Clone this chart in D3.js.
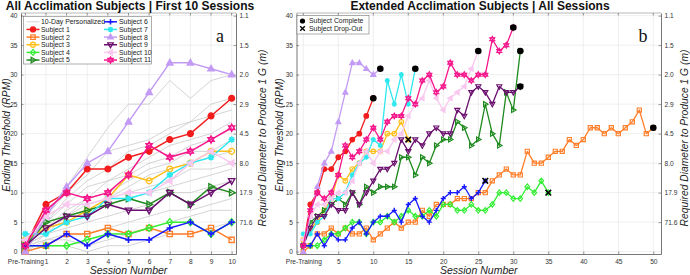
<!DOCTYPE html>
<html><head><meta charset="utf-8">
<script src="https://cdn.jsdelivr.net/npm/d3@7"></script>
<style>
body{margin:0;background:#fff}
svg{display:block}
text{font-family:"Liberation Sans",Arial,Helvetica,sans-serif}
</style>
</head><body>
<svg id="c" width="690" height="275"></svg>
<script>
// ---------------- DATA ----------------
const ticksA = ["Pre-Training","1","2","3","4","5","6","7","8","9","10"];
const ticksBvals = [0,5,10,15,20,25,30,35,40,45,50];
const ticksBlabels = ["Pre-Training","5","10","15","20","25","30","35","40","45","50"];
const leftTickValues = [0,5,10,15,20,25,30,35,40];
const rightTickValues = [5,10,15,20,25,30,35,40];
const rightTickLabels = ["71.6","17.9","8.0","4.5","2.9","2.0","1.5","1.1"];

const subjectNames = ["Subject 1","Subject 2","Subject 3","Subject 4","Subject 5","Subject 6","Subject 7","Subject 8","Subject 9","Subject 10","Subject 11"];
const subjectColors = ["#f21c1c","#ff7f2a","#ffbf1a","#33ee33","#1f8a1f","#1a1aff","#2ee8f0","#c39bf5","#6a0f6e","#f8c8ef","#f5168c"];
const subjectMarkers = ["circle","square","circleOpen","diamond","triRight","plus","asterisk","triUp","triDown","triLeft","hexagram"];
// outcome in extended study: "complete" (black dot) or "dropout" (black x) at final session
const subjectOutcome = ["complete","complete","dropout","dropout","complete","dropout","complete","complete","complete","complete","complete"];

// Ending threshold (RPM) per session, index 0 = Pre-Training
const subject1  = [1,8,10,14,14,16,17,19,20,23,26];
const subject2  = [0,1,3,3,4,3,4,3,3,4,2, 3,4,5,4,5,5,7,6,8, 8,8,9,9,9,10,10,12,13,14, 13,13,17,15,15,16,17,17,19,18, 19,21,21,20,21,20,21,22,24,20, 21];
const subject3  = [2,4,5,7,9,13,12,14,15,17,17, 17,20,20,22,19];
const subject4  = [1,1,1,2,3,3,4,5,5,3,5, 5,6,5,6,7,6,6,7,6, 8,8,7,7,8,7,7,8,10,10, 9,9,11,10,12,10];
const subject5  = [1,5,6,7,8,9,8,10,8,11,10, 11,11,11,16,16,13,16,15,18, 19,19,22,21,18,19,25,20,18,27, 24,34];
const subject6  = [1,1,3,1,3,2,2,4,5,3,5, 6,6,7,5,8,9,6,5,7, 9,10,10,11,9,10,12];
const subject7  = [3,3,5,6,9,9,10,13,15,16,19, 18,29,25,30,25,31];
const subject8  = [0,6,11,15,17,22,27,32,32,31,30,31];
const subject9  = [1,4,6,6,8,7,7,10,8,10,12, 14,14,15,19,17,19,18,20,21, 20,20,24,23,27,28,27,25,28,27, 27,28];
const subject10 = [2,6,8,8,9,10,10,12,15,17,15, 17,17,19,20,23,25,26,29,26, 24,26,27,28,31,34];
const subject11 = [1,7,10,9,10,13,18,16,17,19,21, 19,22,23,23,26,25,29,30,27, 28,32,30,30,29,30,30,36,34,35, 38];
const subjects = [subject1,subject2,subject3,subject4,subject5,subject6,subject7,subject8,subject9,subject10,subject11];

// 10-Day Personalized comparison group (gray lines)
const personalized1  = [1,6,11,16,21,25,25,29,26,29,30];
const personalized2  = [2,6,10,13,17,18,19,21,22,25,26];
const personalized3  = [1,5,9,12,14,17,18,20,22,23,24];
const personalized4  = [2,5,8,11,12,14,16,18,19,20,22];
const personalized5  = [1,4,7,9,12,13,15,16,18,19,21];
const personalized6  = [1,4,6,9,10,12,14,15,17,17,19];
const personalized7  = [0,3,6,8,9,11,13,14,15,16,17];
const personalized8  = [2,4,5,7,9,10,11,12,14,14,15];
const personalized9  = [1,3,5,6,8,9,10,11,12,13,14];
const personalized10 = [1,3,4,5,6,7,8,10,10,11,12];
const personalized11 = [0,2,3,3,4,5,6,7,7,8,9];
const personalized12 = [1,2,2,1,2,3,4,5,6,7,7];
const personalized13 = [0,1,1,0,1,1,2,3,3,4,5];
const personalized = [personalized1,personalized2,personalized3,personalized4,personalized5,personalized6,personalized7,personalized8,personalized9,personalized10,personalized11,personalized12,personalized13];

// ---------------- DRAW ----------------
const svg = d3.select("#c");
const AX = "#555", TXT = "#333", GRID = "#e4e4e4";

function markerPath(type, r) {
  switch (type) {
    case "circle": case "circleOpen": return d3.symbol(d3.symbolCircle, Math.PI*r*r)();
    case "square": return `M${-r*0.9},${-r*0.9}H${r*0.9}V${r*0.9}H${-r*0.9}Z`;
    case "diamond": { const q=r*1.2; return `M0,${-q}L${q*0.85},0L0,${q}L${-q*0.85},0Z`; }
    case "triUp": return `M0,${-r*1.2}L${r*1.1},${r*0.75}L${-r*1.1},${r*0.75}Z`;
    case "triDown": return `M0,${r*1.2}L${r*1.1},${-r*0.75}L${-r*1.1},${-r*0.75}Z`;
    case "triRight": return `M${r*1.2},0L${-r*0.75},${r*1.1}L${-r*0.75},${-r*1.1}Z`;
    case "triLeft": return `M${-r*1.2},0L${r*0.75},${r*1.1}L${r*0.75},${-r*1.1}Z`;
    case "plus": return `M${-r*1.1},0H${r*1.1}M0,${-r*1.1}V${r*1.1}`;
    case "asterisk": { const d=r*0.8; return `M${-r*1.1},0H${r*1.1}M0,${-r*1.1}V${r*1.1}M${-d},${-d}L${d},${d}M${-d},${d}L${d},${-d}`; }
    case "hexagram": { const q=r*1.25; return `M0,${-q}L${q*0.866},${q*0.5}L${-q*0.866},${q*0.5}Z M0,${q}L${q*0.866},${-q*0.5}L${-q*0.866},${-q*0.5}Z`; }
  }
}
function markerStyle(sel, i, lw) {
  const t = subjectMarkers[i], c = subjectColors[i];
  const filled = ["circle","triUp","triLeft","hexagram"].includes(t);
  const lineOnly = ["plus","asterisk"].includes(t);
  sel.attr("fill", filled ? c : "none")
     .attr("stroke", c).attr("stroke-width", lineOnly ? lw*1.1 : lw*0.9);
}

function drawFrame(g, x, y, xVals, xLabels, titleText, titleX, letter, letterX, yLabelX, rLabelX) {
  const [x0,x1] = x.range(), [y0,y1] = y.range();
  g.selectAll(null).data(xVals).enter().append("line")
    .attr("x1",d=>x(d)).attr("x2",d=>x(d)).attr("y1",y0).attr("y2",y1)
    .attr("stroke",GRID).attr("stroke-width",0.6);
  g.selectAll(null).data(leftTickValues).enter().append("line")
    .attr("x1",x0).attr("x2",x1).attr("y1",d=>y(d)).attr("y2",d=>y(d))
    .attr("stroke",GRID).attr("stroke-width",0.6);
  g.append("line").attr("x1",x0).attr("x2",x1).attr("y1",y1).attr("y2",y1).attr("stroke","#888").attr("stroke-width",0.6);
  g.selectAll(null).data(xVals).enter().append("line")
    .attr("x1",d=>x(d)).attr("x2",d=>x(d)).attr("y1",y1).attr("y2",y1+2.5)
    .attr("stroke",AX).attr("stroke-width",0.6);
  const left = g.append("g").attr("transform",`translate(${x0},0)`)
    .call(d3.axisLeft(y).tickValues(leftTickValues).tickSize(-2.5).tickSizeOuter(0).tickPadding(3.5));
  const right = g.append("g").attr("transform",`translate(${x1},0)`)
    .call(d3.axisRight(y).tickValues(rightTickValues).tickFormat((d,i)=>rightTickLabels[i]).tickSize(-2.5).tickSizeOuter(0).tickPadding(3.5));
  const bottom = g.append("g").attr("transform",`translate(0,${y0})`)
    .call(d3.axisBottom(x).tickValues(xVals).tickFormat((d,i)=>xLabels[i]).tickSize(-2.5).tickSizeOuter(0).tickPadding(5.5));
  [left,right,bottom].forEach(a=>{
    a.select(".domain").attr("stroke",AX).attr("stroke-width",0.8);
    a.selectAll(".tick line").attr("stroke",AX).attr("stroke-width",0.6);
    a.selectAll("text").attr("fill",TXT).style("font-size","6.6px").style("font-family",'"Liberation Sans",Arial,sans-serif');
  });
  g.append("text").attr("x",titleX).attr("y",10).attr("text-anchor","middle")
    .style("font-weight","bold").style("font-size","12px").attr("fill","#111").text(titleText);
  g.append("text").attr("x",(x0+x1)/2).attr("y",274).attr("text-anchor","middle")
    .style("font-style","italic").style("font-size","10.5px").attr("fill","#222").text("Session Number");
  g.append("text").attr("transform",`translate(${yLabelX},135) rotate(-90)`).attr("text-anchor","middle").attr("dy","0.35em")
    .style("font-style","italic").style("font-size","10.3px").attr("fill","#222").text("Ending Threshold (RPM)");
  g.append("text").attr("transform",`translate(${rLabelX},138) rotate(-90)`).attr("text-anchor","middle").attr("dy","0.35em")
    .style("font-style","italic").style("font-size","10.3px").attr("fill","#222").text("Required Diameter to Produce 1 G (m)");
  g.append("text").attr("x",letterX).attr("y",42).attr("text-anchor","middle")
    .style("font-family",'"Liberation Serif","DejaVu Serif",serif').style("font-size","18px").attr("fill","#111").text(letter);
}

function drawSeries(g, x, y, vals, i, lw, mr) {
  const line = d3.line().x((d,k)=>x(k)).y(d=>y(d));
  g.append("path").attr("d", line(vals)).attr("fill","none")
    .attr("stroke", subjectColors[i]).attr("stroke-width", lw).attr("stroke-linejoin","round");
  g.selectAll(null).data(vals).enter().append("path")
    .attr("transform",(d,k)=>`translate(${x(k)},${y(d)})`)
    .attr("d", markerPath(subjectMarkers[i], mr))
    .call(s=>markerStyle(s,i,lw));
}

// ---------- Panel A ----------
const xA = d3.scaleLinear().domain([-0.21,10.21]).range([21,236]);
const yA = d3.scaleLinear().domain([-0.4,40.45]).range([254,13]);
const gA = svg.append("g");
drawFrame(gA, xA, yA, d3.range(0,11), ticksA, "All Acclimation Subjects | First 10 Sessions", 130, "a", 220, 6, 262);
const lineA = d3.line().x((d,k)=>xA(k)).y(d=>yA(d));
personalized.forEach(p=>{
  gA.append("path").attr("d",lineA(p)).attr("fill","none").attr("stroke","#c9c9c9").attr("stroke-width",0.8);
});
subjects.forEach((s,i)=>drawSeries(gA, xA, yA, s.slice(0,11), i, 1.5, 2.9));

// legend A
const legA = gA.append("g");
legA.append("rect").attr("x",23.5).attr("y",16.5).attr("width",128).attr("height",47.5)
  .attr("fill","#fff").attr("stroke","#777").attr("stroke-width",0.6);
const legRowY = k => 21.8 + k*7.65;
const legEntries = [{name:"10-Day Personalized", idx:-1}].concat(subjectNames.map((n,i)=>({name:n, idx:i})));
legEntries.forEach((e,k)=>{
  const col = k<6 ? 0 : 1, row = k<6 ? k : k-6;
  const lx0 = col===0 ? 26.5 : 104, lx1 = col===0 ? 39.5 : 117, tx = col===0 ? 41 : 119;
  const yy = legRowY(row);
  if (e.idx<0) {
    legA.append("line").attr("x1",lx0).attr("x2",lx1).attr("y1",yy).attr("y2",yy).attr("stroke","#c9c9c9").attr("stroke-width",0.8);
  } else {
    legA.append("line").attr("x1",lx0).attr("x2",lx1).attr("y1",yy).attr("y2",yy).attr("stroke",subjectColors[e.idx]).attr("stroke-width",1.5);
    legA.append("path").attr("transform",`translate(${(lx0+lx1)/2},${yy})`).attr("d",markerPath(subjectMarkers[e.idx],2.5)).call(s=>markerStyle(s,e.idx,1.4));
  }
  legA.append("text").attr("x",tx).attr("y",yy+2.4).style("font-size","6.9px").attr("fill","#222").text(e.name);
});

// ---------- Panel B ----------
const xB = d3.scaleLinear().domain([-0.97,51.1]).range([296.5,661]);
const yB = d3.scaleLinear().domain([-0.4,40.45]).range([254,13]);
const gB = svg.append("g");
drawFrame(gB, xB, yB, ticksBvals, ticksBlabels, "Extended Acclimation Subjects | All Sessions", 480, "b", 643, 279, 684);
subjects.forEach((s,i)=>drawSeries(gB, xB, yB, s, i, 1.3, 2.3));
subjects.forEach((s,i)=>{
  const k = s.length-1, cx = xB(k), cy = yB(s[k]);
  if (subjectOutcome[i]==="complete") {
    gB.append("circle").attr("cx",cx).attr("cy",cy).attr("r",3.3).attr("fill","#000");
  } else {
    gB.append("path").attr("transform",`translate(${cx},${cy})`).attr("d","M-2.8,-2.8L2.8,2.8M-2.8,2.8L2.8,-2.8").attr("stroke","#000").attr("stroke-width",1.6);
  }
});
const legB = gB.append("g");
legB.append("rect").attr("x",297).attr("y",15.5).attr("width",72).attr("height",18.5)
  .attr("fill","#fff").attr("stroke","#777").attr("stroke-width",0.6);
legB.append("circle").attr("cx",302.5).attr("cy",21).attr("r",2.6).attr("fill","#000");
legB.append("path").attr("transform","translate(302.5,28.5)").attr("d","M-2.3,-2.3L2.3,2.3M-2.3,2.3L2.3,-2.3").attr("stroke","#000").attr("stroke-width",1.4);
legB.append("text").attr("x",309).attr("y",23.4).style("font-size","6.9px").attr("fill","#222").text("Subject Complete");
legB.append("text").attr("x",309).attr("y",30.9).style("font-size","6.9px").attr("fill","#222").text("Subject Drop-Out");
</script>
</body></html>
